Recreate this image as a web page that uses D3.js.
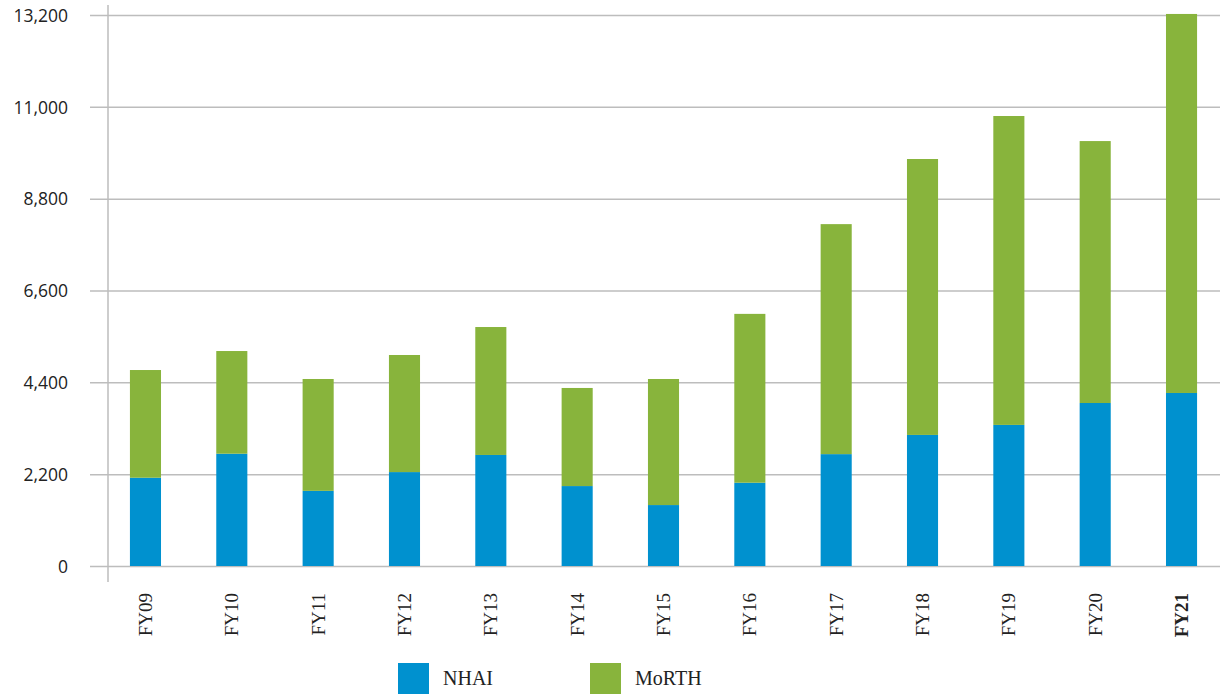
<!DOCTYPE html>
<html>
<head>
<meta charset="utf-8">
<script src="https://cdnjs.cloudflare.com/ajax/libs/d3/7.8.5/d3.min.js"></script>
<style>
  body { margin: 0; background: #fff; }
  .ytick text { font-family: "Open Sans", sans-serif; font-size: 17.5px; fill: #222; }
  .xlab { font-family: "Liberation Serif", serif; font-size: 19px; fill: #222; }
  .legend text { font-family: "Liberation Serif", serif; font-size: 20px; fill: #222; }
</style>
</head>
<body>
<div id="chart"></div>
<script>
// ===========Data
var years = ["FY09", "FY10", "FY11", "FY12", "FY13", "FY14", "FY15", "FY16", "FY17", "FY18", "FY19", "FY20", "FY21"];
var nhai  = [2115, 2690, 1800, 2250, 2660, 1915, 1460, 1995, 2680, 3140, 3380, 3905, 4145];
var morth = [2580, 2460, 2680, 2805, 3065, 2350, 3020, 4045, 5510, 6610, 7400, 6275, 9080];
var yTicks = [0, 2200, 4400, 6600, 8800, 11000, 13200];
var seriesNames = ["NHAI", "MoRTH"];
var seriesColors = ["#0091cf", "#88b43c"];

var svgWidth = 1223;
var svgHeight = 694;

var svg = d3.select("#chart").append("svg")
    .attr("width", svgWidth)
    .attr("height", svgHeight);

// ===========Scales
var xScale = d3.scaleBand()
    .domain(years)
    .range([102.3, 1224.7])
    .paddingInner(0.64)
    .paddingOuter(0.32);

var yScale = d3.scaleLinear()
    .domain([0, 13200])
    .range([566, 15]);

// ===========Gridlines + tick labels
var yAxis = d3.axisLeft(yScale)
    .tickValues(yTicks)
    .tickSize(-(1220 - 90))
    .tickPadding(20)
    .tickFormat(d3.format(","));

var yG = svg.append("g")
    .attr("class", "ytick")
    .attr("transform", "translate(90,0)")
    .call(yAxis);
yG.select(".domain").remove();
yG.selectAll("line")
    .attr("x1", 0)
    .attr("x2", 1220 - 90)
    .attr("stroke", "#bdbdbd")
    .attr("stroke-width", 1.5);
yG.selectAll("text")
    .attr("x", 68 - 90)
    .attr("dy", "0.36em");

// vertical axis line
svg.append("line")
    .attr("x1", 108).attr("x2", 108)
    .attr("y1", 5).attr("y2", 582)
    .attr("stroke", "#bdbdbd")
    .attr("stroke-width", 1.5);

// ===========Stacked bars
var table = years.map(function(y, i) {
    return { year: y, NHAI: nhai[i], MoRTH: morth[i] };
});
var stacked = d3.stack().keys(seriesNames)(table);

svg.append("g").selectAll("g")
    .data(stacked)
    .enter()
    .append("g")
    .attr("fill", function(d, i) { return seriesColors[i]; })
    .selectAll("rect")
    .data(function(d) { return d; })
    .enter()
    .append("rect")
    .attr("x", function(d) { return xScale(d.data.year); })
    .attr("width", xScale.bandwidth())
    .attr("y", function(d) { return yScale(d[1]); })
    .attr("height", function(d) { return yScale(d[0]) - yScale(d[1]); });

// ===========X labels (rotated)
svg.append("g").selectAll("text")
    .data(years)
    .enter()
    .append("text")
    .attr("class", "xlab")
    .attr("transform", function(d) {
        return "translate(" + (xScale(d) + xScale.bandwidth() / 2 + 6.5) + ",593) rotate(-90)";
    })
    .attr("text-anchor", "end")
    .attr("font-weight", function(d) { return d === "FY21" ? "bold" : "normal"; })
    .text(function(d) { return d; });

// ===========Legend
var legendX = [398, 590];
var legend = svg.append("g").attr("class", "legend");
var items = legend.selectAll("g")
    .data(seriesNames)
    .enter()
    .append("g")
    .attr("transform", function(d, i) { return "translate(" + legendX[i] + ",663)"; });
items.append("rect")
    .attr("width", 31)
    .attr("height", 31)
    .attr("fill", function(d, i) { return seriesColors[i]; });
items.append("text")
    .attr("x", 45)
    .attr("y", 22)
    .text(function(d) { return d; });
</script>
</body>
</html>
